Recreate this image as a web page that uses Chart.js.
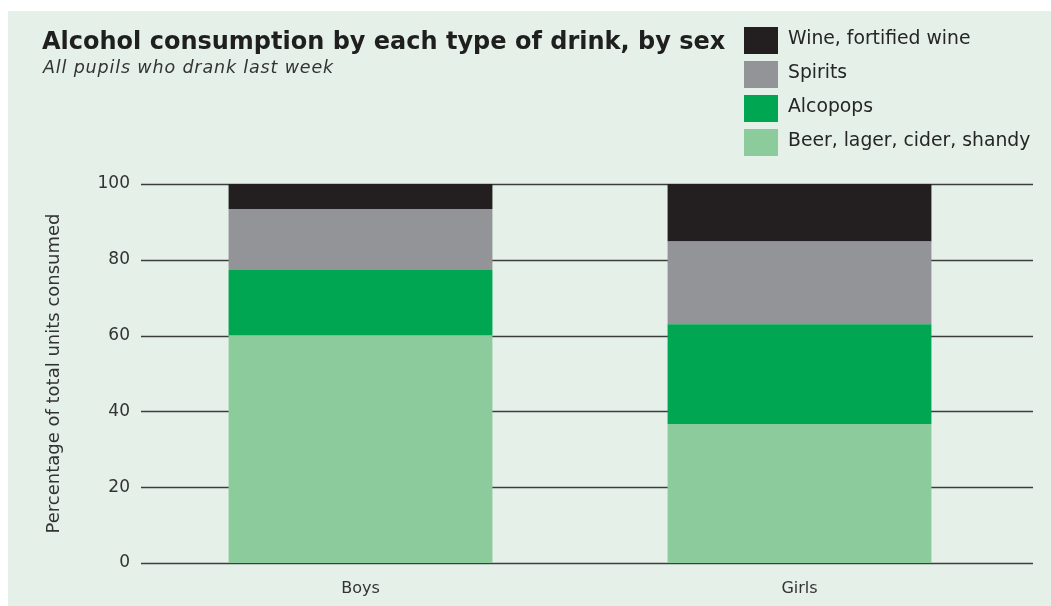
<!DOCTYPE html>
<html>
<head>
<meta charset="utf-8">
<script src="https://cdn.jsdelivr.net/npm/chart.js@4/dist/chart.umd.min.js"></script>
<style>
  html, body { margin: 0; padding: 0; background: #ffffff; }
  #wrap { position: relative; width: 1051px; height: 606px; overflow: hidden; }
  #panel { position: absolute; left: 8px; top: 11px; right: 0; bottom: 0; background: #e5f1e8; }
  #c { position: absolute; left: 0; top: 0; }
  #title { position: absolute; left: 42px; top: 27px; font: bold 24px "DejaVu Sans", sans-serif; color: #1f1f1f; white-space: nowrap; line-height: 28px; }
  #subtitle { position: absolute; left: 43px; top: 57px; font: oblique 17.5px "DejaVu Sans", sans-serif; letter-spacing: 0.85px; color: #333; white-space: nowrap; line-height: 20px; }
  #legend { position: absolute; left: 744px; top: 27px; }
  .li { position: absolute; left: 0; height: 27px; white-space: nowrap; }
  .sw { position: absolute; left: 0; top: 0; width: 34px; height: 27px; }
  .lt { position: absolute; left: 44px; top: 0; line-height: 27px; font: 18.8px "DejaVu Sans", sans-serif; color: #262626; }
</style>
</head>
<body>
<div id="wrap">
  <div id="panel"></div>
  <canvas id="c" width="1051" height="606"></canvas>
  <div id="title">Alcohol consumption by each type of drink, by sex</div>
  <div id="subtitle">All pupils who drank last week</div>
  <div id="legend"></div>
</div>
<script>
// ---- data ----
const categories = ['Boys', 'Girls'];
const beer     = [60.0, 36.7];
const alcopops = [17.3, 26.3];
const spirits  = [16.1, 21.8];
const wine     = [6.6, 15.2];
const seriesNames = ['Beer, lager, cider, shandy', 'Alcopops', 'Spirits', 'Wine, fortified wine'];
const yTickValues = [0, 20, 40, 60, 80, 100];
const yAxisTitle = 'Percentage of total units consumed';

const colors = ['#8bcb9c', '#00a651', '#929497', '#231f20'];
const seriesData = [beer, alcopops, spirits, wine];

const datasets = seriesData.map((d, i) => ({
  label: seriesNames[i],
  data: d,
  backgroundColor: colors[i],
  borderWidth: 0,
  barPercentage: 0.601,
  categoryPercentage: 1.0
}));

// HTML legend built from the datasets (top series first)
const legend = document.getElementById('legend');
datasets.slice().reverse().forEach((ds, i) => {
  const li = document.createElement('div');
  li.className = 'li';
  li.style.top = (i * 34) + 'px';
  const sw = document.createElement('div');
  sw.className = 'sw';
  sw.style.background = ds.backgroundColor;
  const lt = document.createElement('div');
  lt.className = 'lt';
  lt.textContent = ds.label;
  li.appendChild(sw); li.appendChild(lt);
  legend.appendChild(li);
});

const gridPlugin = {
  id: 'gridExt',
  beforeDatasetsDraw(chart) {
    const { ctx, chartArea, scales } = chart;
    const y = scales.y;
    ctx.save();
    ctx.strokeStyle = '#3d3d3d';
    ctx.lineWidth = 1.6;
    yTickValues.forEach(v => {
      const py = Math.round(y.getPixelForValue(v)) + 0.5;
      ctx.beginPath();
      ctx.moveTo(chartArea.left, py);
      ctx.lineTo(chartArea.right + 14, py);
      ctx.stroke();
    });
    ctx.restore();
  }
};

new Chart(document.getElementById('c'), {
  type: 'bar',
  data: { labels: categories, datasets },
  options: {
    responsive: false,
    animation: false,
    events: [],
    layout: { padding: { left: 44, right: 32, top: 184, bottom: 0 } },
    plugins: { legend: { display: false }, title: { display: false }, tooltip: { enabled: false } },
    scales: {
      x: {
        stacked: true,
        grid: { display: false },
        border: { display: false },
        ticks: { color: '#333', font: { family: 'DejaVu Sans', size: 16 }, padding: 8 },
        afterFit(scale) { scale.height = 43; }
      },
      y: {
        stacked: true,
        min: 0, max: 100,
        afterBuildTicks(scale) { scale.ticks = yTickValues.map(v => ({ value: v })); },
        grid: { display: false },
        border: { display: false },
        ticks: { color: '#333', font: { family: 'DejaVu Sans', size: 17 }, padding: 3 },
        title: { display: true, text: yAxisTitle, color: '#333', font: { family: 'DejaVu Sans', size: 18 }, padding: { top: 0, bottom: 0 } },
        afterFit(scale) { scale.width = 97; }
      }
    }
  },
  plugins: [gridPlugin]
});
</script>
</body>
</html>
